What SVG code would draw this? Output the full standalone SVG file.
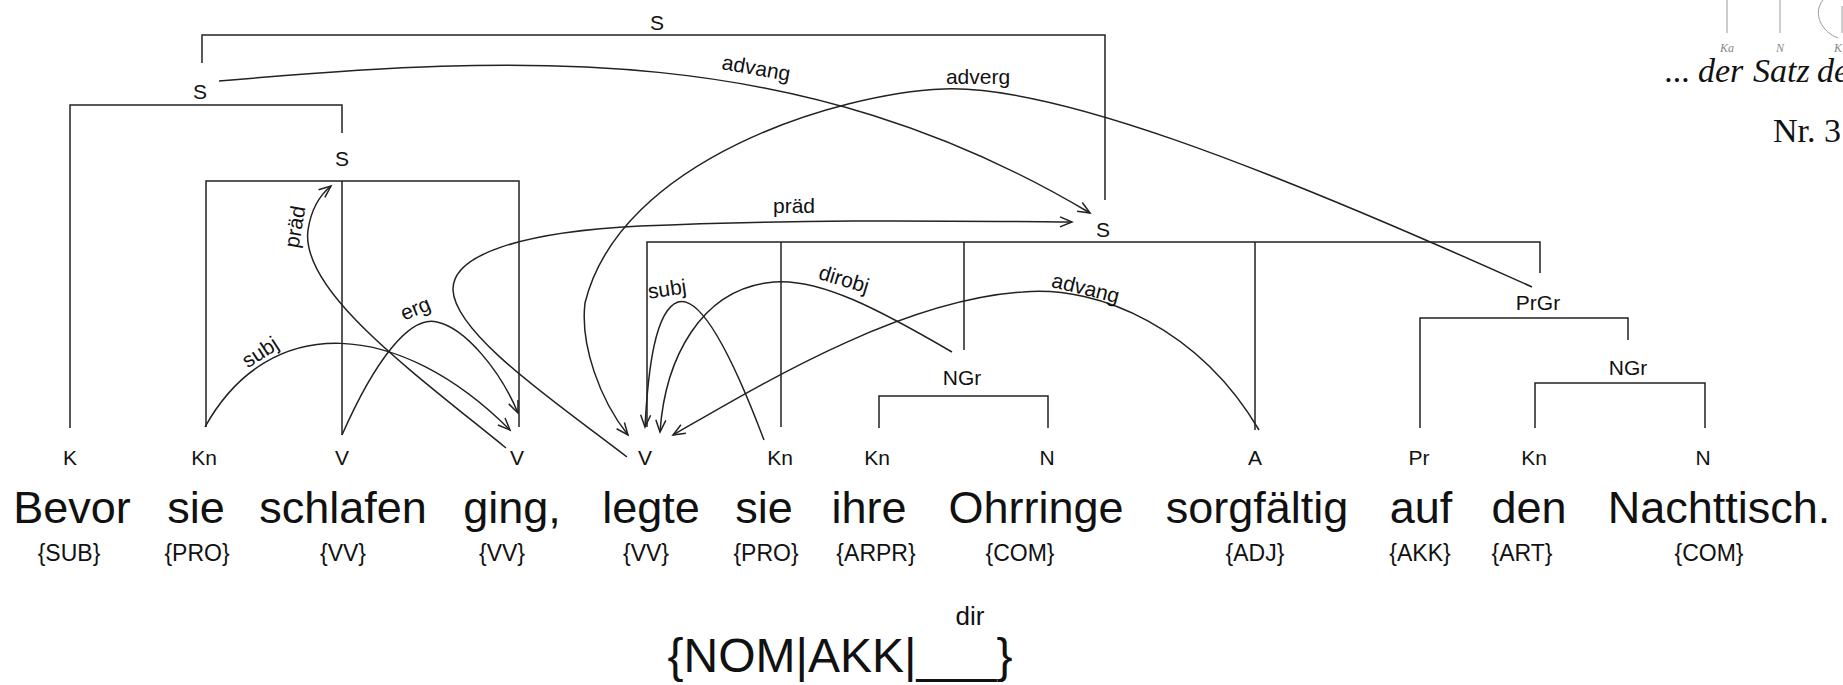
<svg xmlns="http://www.w3.org/2000/svg" width="1843" height="685" viewBox="0 0 1843 685">
<defs>
<marker id="arr" markerUnits="userSpaceOnUse" markerWidth="16" markerHeight="14" refX="13" refY="6" orient="auto">
<path d="M1,1 L13,6 L1,11" fill="none" stroke="#222" stroke-width="1.5"/>
</marker>
<style>
text{font-family:"Liberation Sans",Arial,sans-serif;fill:#111}
.cat{font-size:21px;text-anchor:middle}
.node{font-size:21px;text-anchor:middle}
.word{font-size:45px;text-anchor:middle}
.pos{font-size:23px;text-anchor:middle}
.lab{font-size:21px;text-anchor:middle}
.br{fill:none;stroke:#222;stroke-width:1.5}
.edge{fill:none;stroke:#222;stroke-width:1.5;marker-end:url(#arr)}
.gray{fill:none;stroke:#9a9a9a;stroke-width:1}
.small{font-family:"Liberation Serif",serif;font-style:italic;font-size:12px;fill:#888;text-anchor:middle}
.serif{font-family:"Liberation Serif","Times New Roman",serif}
</style>
</defs>
<rect width="1843" height="685" fill="#fff"/>

<g id="corner">
<path class="gray" d="M1727,0 V33 M1780,0 V33 M1842,6 V33 M1823,0 C1812,14 1822,32 1838,38"/>
<text class="small" x="1727" y="52">Ka</text>
<text class="small" x="1780" y="52">N</text>
<text class="small" x="1838" y="52">K</text>
<text class="serif" y="82" style="font-style:italic;font-size:34px"><tspan x="1665">...</tspan><tspan x="1698">der</tspan><tspan x="1753">Satz</tspan><tspan x="1817">de</tspan></text>
<text class="serif" x="1773" y="142" style="font-size:34px">Nr. 3</text>
</g>

<g id="brackets">
<path class="br" d="M202,63 V35 H1105 V200"/>
<path class="br" d="M70,428 V105 H342 V133"/>
<path class="br" d="M206,427 V181 H519 V427 M342,181 V435"/>
<path class="br" d="M647,427 V242 H1540 V273 M781,242 V427 M964,242 V350 M1255,242 V430"/>
<path class="br" d="M879,428 V396 H1048 V428"/>
<path class="br" d="M1420,428 V318 H1628 V340"/>
<path class="br" d="M1535,428 V383 H1705 V428"/>
</g>

<g id="nodes">
<g id="n-S-top"><text class="node" x="657" y="30">S</text></g>
<g id="n-S-left"><text class="node" x="200" y="99">S</text></g>
<g id="n-S-inner"><text class="node" x="342" y="166">S</text></g>
<g id="n-S-right"><text class="node" x="1103" y="237">S</text></g>
<g id="n-NGr1"><text class="node" x="962" y="385">NGr</text></g>
<g id="n-PrGr"><text class="node" x="1538" y="310">PrGr</text></g>
<g id="n-NGr2"><text class="node" x="1628" y="375">NGr</text></g>

<g id="w1"><text class="cat" x="70" y="465">K</text><text class="word" x="72" y="523">Bevor</text><text class="pos" x="69" y="561">{SUB}</text></g>
<g id="w2"><text class="cat" x="204" y="465">Kn</text><text class="word" x="196" y="523">sie</text><text class="pos" x="197" y="561">{PRO}</text></g>
<g id="w3"><text class="cat" x="342" y="465">V</text><text class="word" x="343" y="523">schlafen</text><text class="pos" x="343" y="561">{VV}</text></g>
<g id="w4"><text class="cat" x="517" y="465">V</text><text class="word" x="512" y="523">ging,</text><text class="pos" x="502" y="561">{VV}</text></g>
<g id="w5"><text class="cat" x="645" y="465">V</text><text class="word" x="651" y="523">legte</text><text class="pos" x="646" y="561">{VV}</text></g>
<g id="w6"><text class="cat" x="780" y="465">Kn</text><text class="word" x="764" y="523">sie</text><text class="pos" x="766" y="561">{PRO}</text></g>
<g id="w7"><text class="cat" x="877" y="465">Kn</text><text class="word" x="869" y="523">ihre</text><text class="pos" x="876" y="561">{ARPR}</text></g>
<g id="w8"><text class="cat" x="1047" y="465">N</text><text class="word" x="1036" y="523">Ohrringe</text><text class="pos" x="1020" y="561">{COM}</text></g>
<g id="w9"><text class="cat" x="1255" y="465">A</text><text class="word" x="1257" y="523">sorgfältig</text><text class="pos" x="1255" y="561">{ADJ}</text></g>
<g id="w10"><text class="cat" x="1419" y="465">Pr</text><text class="word" x="1421" y="523">auf</text><text class="pos" x="1420" y="561">{AKK}</text></g>
<g id="w11"><text class="cat" x="1534" y="465">Kn</text><text class="word" x="1529" y="523">den</text><text class="pos" x="1522" y="561">{ART}</text></g>
<g id="w12"><text class="cat" x="1703" y="465">N</text><text class="word" x="1719" y="523">Nachttisch.</text><text class="pos" x="1709" y="561">{COM}</text></g>

<g id="valence"><text x="970" y="625" style="font-size:26px;text-anchor:middle">dir</text><text x="840" y="672" style="font-size:48px;text-anchor:middle">{NOM|AKK|___}</text></g>
</g>

<g id="connectors">
<path class="edge" d="M219,81 C520,55 800,40 1090,213"/>
<path class="edge" d="M1532,287 C1250,160 1050,85 944,89 C838,93 620,160 585,303 C580,345 600,400 628,435"/>
<path class="edge" d="M627,457 C560,405 455,335 453,290 C452,255 520,232 640,226 C800,219 950,221 1072,222"/>
<path class="edge" d="M506,448 C410,370 300,290 308,230 C311,210 320,195 331,186"/>
<path class="edge" d="M205,427 C270,310 400,320 510,430"/>
<path class="edge" d="M342,435 C375,360 410,315 437,322 C465,328 500,370 518,413"/>
<path class="edge" d="M764,440 C730,350 700,295 678,302 C655,310 648,370 645,427"/>
<path class="edge" d="M952,352 C880,310 820,278 774,282 C700,288 665,360 660,432"/>
<path class="edge" d="M1259,430 C1200,330 1100,285 1023,292 C900,300 760,385 673,435"/>
<text class="lab" transform="translate(755,75) rotate(10)">advang</text>
<text class="lab" x="978" y="84">adverg</text>
<text class="lab" x="794" y="213">präd</text>
<text class="lab" transform="translate(302,228) rotate(-80)">präd</text>
<text class="lab" transform="translate(264,358) rotate(-33)">subj</text>
<text class="lab" transform="translate(418,315) rotate(-22)">erg</text>
<text class="lab" transform="translate(668,296) rotate(-8)">subj</text>
<text class="lab" transform="translate(842,286) rotate(17)">dirobj</text>
<text class="lab" transform="translate(1084,295) rotate(14)">advang</text>
</g>
</svg>
